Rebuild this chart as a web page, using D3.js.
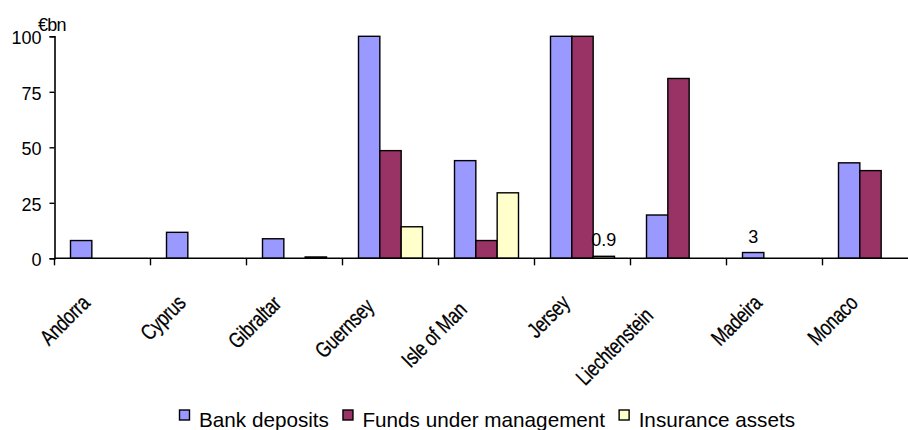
<!DOCTYPE html>
<html lang="en">
<head>
    <meta charset="UTF-8">
    <title>Offshore centres</title>
    <script src="https://d3js.org/d3.v7.min.js"></script>
    <style>
        body { margin: 0; background: #fff; }
        text { font-family: "Liberation Sans", Arial, sans-serif; fill: #000; }
    </style>
</head>
<body>
    <div id="plot"></div>

    <script>
        function translate(x, y){
            return 'translate(' + x + ', ' + y + ')';
        }

        // data (€bn); bars above 100 run off the top of the plot
        let categories = ['Andorra', 'Cyprus', 'Gibraltar', 'Guernsey', 'Isle of Man',
                          'Jersey', 'Liechtenstein', 'Madeira', 'Monaco'];
        let seriesNames = ['Bank deposits', 'Funds under management', 'Insurance assets'];
        let bankDeposits = [8, 11.7, 8.8, 120, 44, 190, 19.5, 2.6, 43];
        let fundsUnderManagement = [null, null, null, 48.5, 8, 140, 81, null, 39.5];
        let insuranceAssets = [null, null, 0.6, 14.2, 29.5, 0.9, null, null, null];
        let yTicks = [0, 25, 50, 75, 100];
        let valueLabels = [
            {category: 'Jersey', series: 'Insurance assets', text: '0.9'},
            {category: 'Madeira', series: 'Bank deposits', text: '3'}
        ];

        let colors = ['#9999ff', '#993366', '#ffffcc'];
        let seriesValues = [bankDeposits, fundsUnderManagement, insuranceAssets];

        let rows = [];
        categories.forEach(function(c, i){
            seriesNames.forEach(function(s, j){
                rows.push({category: c, series: s, value: seriesValues[j][i]});
            });
        });

        let svgWidth = 908;
        let svgHeight = 430;
        let left = 54.5;
        let step = 96;

        let svg = d3.select('#plot')
                    .append('svg')
                        .attr('width', svgWidth)
                        .attr('height', svgHeight);

        let x = d3.scaleBand()
                    .domain(categories)
                    .range([left, left + step * categories.length]);

        let xInner = d3.scaleBand()
                    .domain(seriesNames)
                    .range([0, x.bandwidth()])
                    .paddingOuter(0.75);

        let y = d3.scaleLinear()
                    .domain([0, 100])
                    .range([258.3, 36.3])
                    .clamp(true);

        let color = d3.scaleOrdinal()
                    .domain(seriesNames)
                    .range(colors);

        // bars
        svg.append('g')
            .selectAll('rect')
            .data(rows.filter(d => d.value != null))
            .enter()
            .append('rect')
                .attr('x', d => x(d.category) + xInner(d.series))
                .attr('y', d => y(d.value))
                .attr('width', xInner.bandwidth())
                .attr('height', d => y(0) - y(d.value))
                .style('fill', d => color(d.series))
                .style('stroke', '#000')
                .style('stroke-width', 1.4);

        // value labels
        svg.append('g')
            .selectAll('text')
            .data(valueLabels)
            .enter()
            .append('text')
                .attr('x', d => x(d.category) + xInner(d.series) + xInner.bandwidth() / 2)
                .attr('y', function(d){
                    let v = seriesValues[seriesNames.indexOf(d.series)][categories.indexOf(d.category)];
                    return y(v) - 10;
                })
                .attr('text-anchor', 'middle')
                .style('font-size', '18px')
                .text(d => d.text);

        // y axis
        let yAxis = d3.axisLeft(y)
                    .tickValues(yTicks)
                    .tickSize(5)
                    .tickPadding(8);

        let gy = svg.append('g')
            .attr('transform', translate(left, 0))
            .call(yAxis);
        gy.select('.domain').attr('stroke-width', 1.6);
        gy.selectAll('.tick line').attr('stroke-width', 1.4);
        gy.selectAll('.tick text')
            .attr('dy', '0.4em')
            .style('font-size', '18px')
            .style('font-family', '"Liberation Sans", Arial, sans-serif');

        // x axis: line plus ticks between categories
        let gx = svg.append('g');
        gx.append('line')
            .attr('x1', left).attr('x2', svgWidth)
            .attr('y1', y(0)).attr('y2', y(0))
            .attr('stroke', '#000')
            .attr('stroke-width', 1.6);
        gx.selectAll('.xtick')
            .data(categories)
            .enter()
            .append('line')
                .attr('class', 'xtick')
                .attr('x1', d => x(d)).attr('x2', d => x(d))
                .attr('y1', y(0)).attr('y2', y(0) + 7)
                .attr('stroke', '#000')
                .attr('stroke-width', 1.4);

        // rotated category labels, squeezed sideways like the original
        let r2 = Math.SQRT2;
        let squeeze = 0.78;
        gx.selectAll('.xlabel')
            .data(categories)
            .enter()
            .append('text')
                .attr('class', 'xlabel')
                .attr('text-anchor', 'end')
                .attr('dy', '0.35em')
                .style('font-size', '22px')
                .style('letter-spacing', '-0.3px')
                .style('stroke', '#000')
                .style('stroke-width', 0.25)
                .text(d => d)
                .attr('transform', function(d){
                    let len = this.getComputedTextLength() * squeeze;
                    let s = -24 - Math.max(0, len - 62) * 0.5;
                    let cx = x(d) + x.bandwidth() / 2;
                    return translate(cx + s / r2, 282 - s / r2) + ' rotate(-45) scale(' + squeeze + ', 1)';
                });

        // unit label
        svg.append('text')
            .attr('x', 38)
            .attr('y', 31)
            .style('font-size', '18px')
            .style('letter-spacing', '-0.8px')
            .text('€bn');

        // legend
        let legend = svg.append('g')
            .attr('transform', translate(179.5, 410));
        let lx = 0;
        seriesNames.forEach(function(s){
            let item = legend.append('g').attr('transform', translate(lx, 0));
            item.append('rect')
                .attr('width', 10)
                .attr('height', 10)
                .style('fill', color(s))
                .style('stroke', '#000')
                .style('stroke-width', 1.4);
            let t = item.append('text')
                .attr('x', 19.5)
                .attr('y', 17)
                .style('font-size', '20.7px')
                .text(s);
            lx += 19.5 + t.node().getComputedTextLength() + 14;
        });
    </script>
</body>
</html>
